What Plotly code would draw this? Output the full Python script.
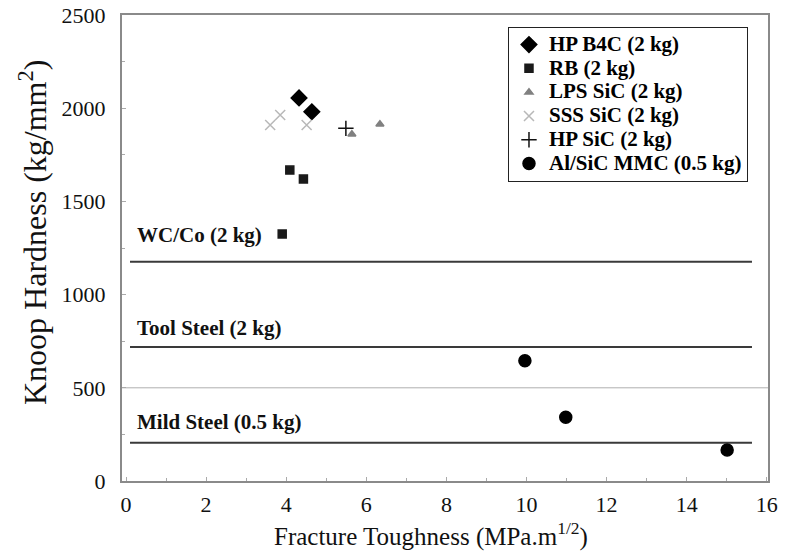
import plotly.graph_objects as go

# Material data (fracture toughness MPa.m^1/2, Knoop hardness kg/mm^2)
hp_b4c_x = [4.32, 4.64]
hp_b4c_y = [2055, 1981]
rb_x = [4.09, 4.43, 3.90]
rb_y = [1668, 1620, 1325]
lps_x = [5.64, 6.34]
lps_y = [1860, 1914]
sss_x = [3.60, 3.85, 4.51]
sss_y = [1910, 1964, 1910]
hpsic_x = [5.49]
hpsic_y = [1892]
mmc_x = [9.96, 10.98, 15.01]
mmc_y = [645, 342, 166]

# Reference materials (horizontal levels)
ref_names = ["WC/Co (2 kg)", "Tool Steel (2 kg)", "Mild Steel (0.5 kg)"]
ref_hardness = [1176, 719, 205]
ref_x_span = [0.1, 15.63]

x_ticks = [0, 2, 4, 6, 8, 10, 12, 14, 16]
y_ticks = [0, 500, 1000, 1500, 2000, 2500]

x_title = "Fracture Toughness (MPa.m<sup>1/2</sup>)"
y_title = "Knoop Hardness (kg/mm<sup>2</sup>)"

FONT = "Liberation Serif"

# label pixel offsets above each level line (style)
label_shift = [27, 19, 21]

fig = go.Figure()

for name, h, dy in zip(ref_names, ref_hardness, label_shift):
    fig.add_trace(go.Scatter(x=ref_x_span, y=[h, h], mode="lines",
                             line=dict(color="#3a3a3a", width=2),
                             showlegend=False, hoverinfo="skip"))
    fig.add_annotation(x=0.22, y=h, xref="x", yref="y", text="<b>" + name + "</b>",
                       showarrow=False, xanchor="left", yanchor="middle", yshift=dy,
                       font=dict(family=FONT, size=21, color="#111"))

series = [
    ("HP B4C (2 kg)", hp_b4c_x, hp_b4c_y, "diamond", "#000000", 12),
    ("RB (2 kg)", rb_x, rb_y, "square", "#1a1a1a", 8),
    ("LPS SiC (2 kg)", lps_x, lps_y, "triangle-up", "#808080", 7),
    ("SSS SiC (2 kg)", sss_x, sss_y, "x-thin", "#b8b8b8", 10),
    ("HP SiC (2 kg)", hpsic_x, hpsic_y, "cross-thin", "#111111", 11),
    ("Al/SiC MMC (0.5 kg)", mmc_x, mmc_y, "circle", "#000000", 12),
]
for name, xs, ys, sym, col, sz in series:
    fig.add_trace(go.Scatter(x=xs, y=ys, mode="markers",
                             name='<span style="font-size:21px">' + name + "</span>",
                             marker=dict(symbol=sym, color=col, size=sz,
                                         line=dict(color=col, width=1.5))))

fig.add_hline(y=500, line=dict(color="#b0b0b0", width=1), layer="below")

# axis titles (placed as annotations to match the original offsets)
fig.add_annotation(x=0.478, y=-0.115, xref="paper", yref="paper", text=x_title,
                   showarrow=False, xanchor="center", yanchor="middle",
                   font=dict(family=FONT, size=25, color="#111"))
fig.add_annotation(x=-0.138, y=0.534, xref="paper", yref="paper", text=y_title,
                   showarrow=False, xanchor="center", yanchor="middle", textangle=-90,
                   font=dict(family=FONT, size=32, color="#111"))

fig.update_layout(
    width=787, height=552,
    margin=dict(l=122, r=19, t=15, b=71, autoexpand=False),
    paper_bgcolor="white", plot_bgcolor="white",
    font=dict(family=FONT, color="#111"),
    xaxis=dict(range=[-0.1, 16.03], tickvals=x_ticks, ticks="inside", ticklen=4,
               tickcolor="#aaa", showgrid=False, zeroline=False, automargin=False,
               minor=dict(dtick=1, ticks="inside", ticklen=3, tickcolor="#aaa"),
               showline=True, linecolor="#8a8a8a", linewidth=2, mirror=True,
               tickfont=dict(size=22, family=FONT), ticklabelstandoff=3),
    yaxis=dict(range=[0, 2500], tickvals=y_ticks, ticks="inside", ticklen=4,
               tickcolor="#aaa", showgrid=False, zeroline=False, automargin=False,
               minor=dict(dtick=250, ticks="inside", ticklen=3, tickcolor="#aaa"),
               showline=True, linecolor="#8a8a8a", linewidth=2, mirror=True,
               tickfont=dict(size=22, family=FONT), ticklabelstandoff=10),
    legend=dict(x=0.5975, y=0.975, xanchor="left", yanchor="top",
                bgcolor="white", bordercolor="#222", borderwidth=1,
                font=dict(family=FONT, size=16, color="#000", weight="bold"),
                tracegroupgap=0, itemwidth=30),
    showlegend=True,
)

fig.write_html("out.html", post_script="document.body.style.margin='0px';",
               config={"displayModeBar": False})
